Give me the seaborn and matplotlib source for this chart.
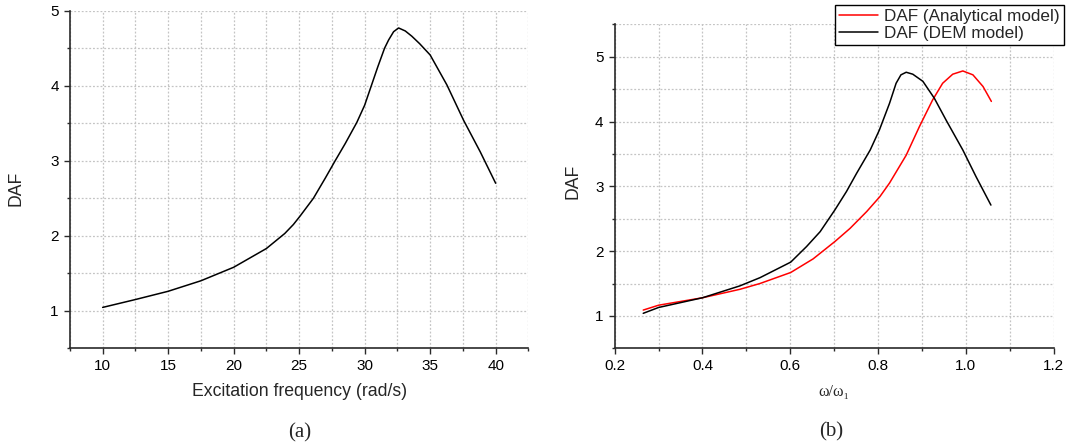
import matplotlib
matplotlib.use("Agg")
import matplotlib.pyplot as plt
import seaborn as sns
import pandas as pd
from matplotlib.ticker import MultipleLocator

# ---- data ----
freq_dem = [10, 12.5, 15, 17.5, 20, 22.5, 23.9, 24.56, 25.06, 26.09, 27.0, 27.75,
            28.52, 29.4, 30.0, 30.47, 31.0, 31.52, 31.83, 32.21, 32.59, 33.1, 33.6,
            34.2, 35.0, 36.28, 37.55, 38.82, 40]
daf_dem_a = [1.045, 1.15, 1.26, 1.40, 1.58, 1.83, 2.03, 2.15, 2.26, 2.50, 2.77, 3.0,
             3.23, 3.51, 3.74, 3.98, 4.25, 4.5, 4.61, 4.72, 4.77, 4.73, 4.66,
             4.56, 4.41, 4.01, 3.54, 3.12, 2.70]

ratio_dem = [0.265, 0.3, 0.4, 0.485, 0.531, 0.601, 0.637, 0.668, 0.702, 0.728, 0.751,
             0.782, 0.803, 0.826, 0.841, 0.852, 0.864, 0.879, 0.902, 0.928, 0.955,
             0.993, 1.023, 1.057]
daf_dem_b = [1.04, 1.13, 1.28, 1.463, 1.59, 1.83, 2.07, 2.30, 2.64, 2.92, 3.20,
             3.56, 3.87, 4.28, 4.59, 4.72, 4.76, 4.73, 4.62, 4.36, 4.02,
             3.56, 3.15, 2.71]

ratio_ana = [0.265, 0.3, 0.4, 0.485, 0.531, 0.601, 0.652, 0.702, 0.736, 0.774, 0.804,
             0.826, 0.864, 0.894, 0.924, 0.947, 0.970, 0.993, 1.016, 1.039, 1.058]
daf_ana = [1.09, 1.165, 1.28, 1.41, 1.50, 1.67, 1.88, 2.15, 2.35, 2.61, 2.84,
           3.05, 3.48, 3.92, 4.33, 4.59, 4.73, 4.78, 4.72, 4.54, 4.31]

label_ana = "DAF (Analytical model)"
label_dem = "DAF (DEM model)"

sns.set_style("ticks")
plt.rcParams["font.family"] = ["Liberation Sans", "DejaVu Sans"]

fig = plt.figure(figsize=(10.69, 4.47), dpi=100)
W, H = 1069.0, 447.0
axA = fig.add_axes([69.9 / W, 1 - 348.3 / H, (528.4 - 69.9) / W, (348.3 - 10.7) / H])
axB = fig.add_axes([614.7 / W, 1 - 348.3 / H, 439.0 / W, (348.3 - 24.3) / H])

dfA = pd.DataFrame({"x": freq_dem, "y": daf_dem_a})
sns.lineplot(data=dfA, x="x", y="y", ax=axA, color="black", lw=1.1, estimator=None)

dfB = pd.concat([
    pd.DataFrame({"x": ratio_ana, "y": daf_ana, "model": label_ana}),
    pd.DataFrame({"x": ratio_dem, "y": daf_dem_b, "model": label_dem}),
])
sns.lineplot(data=dfB, x="x", y="y", hue="model", ax=axB,
             palette={label_ana: "#ff0000", label_dem: "black"},
             lw=1.1, estimator=None, sort=False)

def style(ax, xlim, ylim, xmaj, xmin):
    ax.set_xlim(*xlim)
    ax.set_ylim(*ylim)
    ax.xaxis.set_major_locator(MultipleLocator(xmaj))
    ax.xaxis.set_minor_locator(MultipleLocator(xmin))
    ax.yaxis.set_major_locator(MultipleLocator(1))
    ax.yaxis.set_minor_locator(MultipleLocator(0.5))
    ax.grid(True, which="both", color="#c4c4c4", linestyle=(0, (1.5, 1.5)), lw=0.9)
    ax.set_axisbelow(True)
    for s in ["top", "right"]:
        ax.spines[s].set_visible(False)
    for s in ["left", "bottom"]:
        ax.spines[s].set_color("#2a2a2a")
        ax.spines[s].set_linewidth(1.2)
    ax.tick_params(which="major", direction="out", length=4, width=1.0,
                   color="#2a2a2a", labelsize=11, pad=4.0, labelcolor="black")
    ax.tick_params(which="minor", direction="out", length=2.5, width=1.0,
                   color="#2a2a2a")

style(axA, (7.5, 42.5), (0.5, 5.0), 5, 2.5)
style(axB, (0.2, 1.2), (0.5, 5.5), 0.2, 0.1)

axA.set_xlabel("Excitation frequency (rad/s)", fontsize=12.7)
axA.set_ylabel("DAF", fontsize=12.7)
axA.xaxis.set_label_coords(0.5, -0.103)
axA.yaxis.set_label_coords(-0.100, 0.475)

axB.set_xlabel("ω/ω\u2081", fontsize=11.5, family=["Liberation Serif", "DejaVu Serif"])
axB.set_ylabel("DAF", fontsize=12.7)
axB.xaxis.set_label_coords(0.5, -0.110)
axB.yaxis.set_label_coords(-0.075, 0.514)

handles, labels = axB.get_legend_handles_labels()
axB.get_legend().remove()
leg = fig.legend(handles, labels, loc="upper right",
                 bbox_to_anchor=(1064 / W, 1 - 4.5 / H), fontsize=12.3,
                 frameon=True, fancybox=False, framealpha=1, edgecolor="black",
                 handlelength=2.3, handletextpad=0.35, borderpad=0.25,
                 labelspacing=0.12, borderaxespad=0)
leg.get_frame().set_linewidth(1.0)

fig.text(299.6 / W, 1 - 433 / H, "(a)", ha="center", va="center", fontsize=15,
         family=["Liberation Serif", "DejaVu Serif"])
fig.text(830.8 / W, 1 - 432 / H, "(b)", ha="center", va="center", fontsize=15,
         family=["Liberation Serif", "DejaVu Serif"])

fig.savefig("out.png", dpi=100)
